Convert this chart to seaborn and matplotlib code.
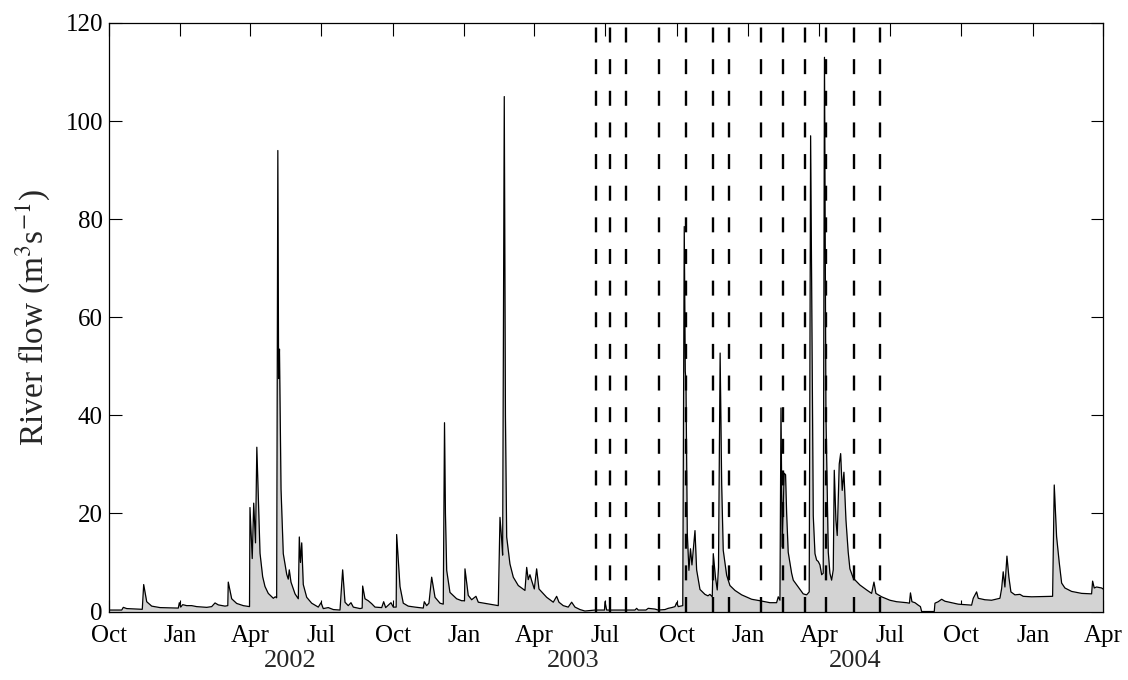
import numpy as np
import pandas as pd
import matplotlib
matplotlib.use("Agg")
import matplotlib.pyplot as plt
import matplotlib.transforms as mtransforms
import seaborn as sns

# ---------------- data ----------------
# days since 2001-10-01
day_offset = [0, 17.0, 19.0, 23.4, 43.4, 45.2, 49.1, 55.5, 66.2, 89.7,
              91.0, 92.8, 95.3, 100.5, 106.9, 113.3, 126.2, 132.6, 136.9, 141.1,
              149.7, 153.3, 153.9, 158.3, 164.7, 173.2, 181.2, 181.8, 184.7, 186.6,
              188.9, 190.6, 194.7, 198.1, 201.1, 205.3, 211.8, 214.3, 216.1, 217.6,
              218.6, 219.7, 221.7, 224.6, 229.0, 231.0, 232.3, 234.5, 239.7, 243.9,
              245.2, 246.7, 248.3, 250.3, 254.7, 261.1, 269.6, 273.1, 276.0, 282.4,
              288.9, 297.5, 300.9, 303.9, 308.1, 311.6, 314.6, 323.2, 326.0, 326.6,
              329.6, 333.8, 338.2, 342.5, 351.1, 353.6, 356.2, 363.0, 366.0, 369.7,
              370.3, 374.6, 378.8, 385.2, 393.9, 404.5, 405.8, 408.9, 411.8, 415.3,
              419.6, 426.0, 430.2, 431.8, 433.0, 434.6, 438.8, 447.4, 453.9, 457.5,
              458.1, 462.3, 466.7, 472.2, 475.2, 486.0, 500.9, 503.1, 505.3, 506.5,
              508.6, 510.1, 511.7, 515.9, 520.2, 526.6, 535.2, 537.4, 539.4, 541.6,
              543.8, 547.2, 550.2, 553.2, 556.7, 563.1, 571.6, 575.9, 578.9, 584.4,
              590.8, 595.2, 599.5, 605.9, 612.3, 625.2, 637.4, 638.0, 640.2, 676.6,
              678.7, 680.8, 690.7, 693.6, 702.3, 706.5, 715.1, 719.3, 723.7, 728.0,
              730.1, 732.2, 738.0, 739.9, 741.2, 742.1, 743.8, 745.9, 747.9, 749.8,
              753.7, 755.8, 760.1, 766.5, 770.4, 772.9, 775.9, 777.2, 780.0, 782.3,
              783.9, 786.0, 788.0, 790.0, 794.4, 798.6, 805.1, 813.7, 826.5, 837.2,
              850.0, 858.6, 860.7, 862.9, 864.2, 865.8, 868.3, 870.1, 871.5, 873.5,
              877.9, 880.0, 886.4, 892.8, 897.2, 900.5, 902.3, 905.7, 907.9, 910.0,
              912.1, 914.3, 916.5, 918.5, 920.1, 922.0, 925.0, 927.1, 929.3, 931.4,
              932.7, 934.8, 936.5, 939.1, 940.9, 942.9, 945.1, 947.7, 950.6, 952.8,
              957.1, 965.7, 974.3, 980.7, 983.7, 986.2, 993.6, 1004.2, 1012.8, 1025.7,
              1029.3, 1030.6, 1032.5, 1036.4, 1040.6, 1043.4, 1045.0, 1061.2, 1062.1, 1066.3,
              1070.7, 1074.9, 1083.5, 1092.0, 1109.2, 1111.3, 1115.6, 1117.7, 1126.3, 1134.9,
              1145.6, 1147.8, 1149.8, 1152.0, 1154.6, 1157.1, 1159.7, 1164.9, 1171.3, 1175.5,
              1186.3, 1213.3, 1215.4, 1218.4, 1220.1, 1221.8, 1224.9, 1229.1, 1237.7, 1250.6,
              1263.4, 1264.7, 1266.8, 1269.8, 1276.3, 1278.0]

flow = [0.3, 0.3, 0.85, 0.6, 0.45, 5.5, 2.0, 1.1, 0.8, 0.7,
        1.8, 0.9, 1.4, 1.2, 1.2, 1.0, 0.85, 1.0, 1.75, 1.35,
        1.1, 1.2, 6.0, 2.6, 1.65, 1.2, 1.0, 21.2, 10.8, 22.1,
        14.0, 33.5, 11.9, 7.1, 5.1, 3.7, 2.7, 3.0, 2.8, 94.0,
        47.5, 53.5, 25.0, 11.8, 7.6, 6.6, 8.5, 6.0, 3.6, 2.6,
        15.2, 10.0, 14.0, 5.5, 2.9, 1.7, 0.9, 1.8, 0.6, 0.8,
        0.4, 0.3, 8.5, 1.9, 1.2, 1.8, 0.9, 0.6, 0.7, 5.2,
        2.6, 2.2, 1.6, 0.9, 0.8, 2.0, 0.8, 1.8, 0.9, 0.9,
        15.7, 5.1, 1.7, 1.1, 0.9, 0.7, 2.0, 1.2, 1.7, 7.0,
        2.9, 1.7, 1.5, 38.5, 20.0, 8.4, 3.9, 2.6, 2.2, 2.2,
        8.7, 3.3, 2.4, 3.1, 1.9, 1.6, 1.2, 19.2, 14.5, 11.5,
        105.0, 40.0, 15.2, 9.7, 7.0, 5.3, 4.3, 9.0, 6.5, 7.5,
        6.3, 4.6, 8.7, 4.6, 4.0, 2.9, 1.9, 3.1, 1.9, 1.2,
        0.9, 1.9, 0.9, 0.4, 0.1, 0.3, 0.3, 2.0, 0.3, 0.3,
        0.65, 0.3, 0.3, 0.65, 0.5, 0.3, 0.4, 0.65, 0.8, 1.0,
        1.8, 1.0, 1.2, 78.5, 49.0, 47.0, 16.0, 8.4, 12.8, 9.5,
        16.5, 8.5, 4.5, 3.5, 3.2, 3.5, 3.0, 11.8, 7.0, 4.4,
        9.0, 52.7, 26.0, 12.5, 7.4, 5.3, 4.3, 3.4, 2.5, 2.2,
        1.8, 1.8, 3.0, 2.3, 41.5, 13.2, 28.2, 27.9, 20.0, 12.1,
        7.8, 6.4, 5.0, 3.6, 3.4, 4.0, 97.0, 19.5, 11.8, 10.5,
        10.2, 9.5, 7.5, 7.8, 113.0, 40.0, 12.1, 7.8, 6.4, 8.5,
        28.8, 18.7, 15.5, 30.1, 32.2, 24.7, 28.4, 18.7, 12.1, 8.7,
        6.8, 5.4, 4.4, 3.7, 6.0, 3.7, 3.0, 2.3, 2.0, 1.8,
        1.7, 3.8, 2.0, 1.8, 1.3, 1.0, 0.0, 0.0, 1.7, 2.0,
        2.5, 2.1, 1.8, 1.5, 1.3, 2.7, 4.0, 2.7, 2.4, 2.3,
        2.7, 4.7, 8.1, 5.0, 11.3, 7.0, 4.0, 3.4, 3.5, 3.1,
        3.0, 3.1, 25.8, 15.3, 12.6, 10.0, 5.8, 4.8, 4.1, 3.7,
        3.6, 6.2, 4.8, 5.0, 4.8, 4.6]

# sampling campaign dates (dashed vertical lines)
sample_dates = ["2003-06-19", "2003-07-08", "2003-07-28", "2003-09-09",
                "2003-10-13", "2003-11-17", "2003-12-08", "2004-01-18",
                "2004-02-15", "2004-03-14", "2004-04-10", "2004-05-16",
                "2004-06-19"]

year_labels = ["2002", "2003", "2004"]
year_label_dates = ["2002-05-22", "2003-05-21", "2004-05-17"]

x_start = "2001-10-01"
x_end = "2005-04-01"
y_ticks = [0, 20, 40, 60, 80, 100, 120]

# ---------------- plotting ----------------
sns.set_theme(style="ticks")
plt.rcParams["font.family"] = ["Liberation Serif", "DejaVu Serif"]
plt.rcParams["mathtext.fontset"] = "stix"

start = pd.Timestamp(x_start)
df = pd.DataFrame({
    "date": start + pd.to_timedelta(np.array(day_offset), unit="D"),
    "flow": flow,
})

fig = plt.figure(figsize=(11.28, 6.8), dpi=100)
ax = fig.add_axes([0.0962, 0.1007, 0.8816, 0.8655])

ax.fill_between(df["date"], 0, df["flow"], color="#d3d3d3", linewidth=0, zorder=1)
sns.lineplot(data=df, x="date", y="flow", color="black", linewidth=0.9,
             ax=ax, zorder=3, sort=False)

for d in sample_dates:
    ax.axvline(pd.Timestamp(d), color="black", linewidth=1.7,
               dashes=(6.35, 7.05), zorder=4)

ax.set_xlim(start, pd.Timestamp(x_end))
ax.set_ylim(0, 120)
ax.set_yticks(y_ticks)
xt = pd.date_range(x_start, x_end, freq="3MS")
ax.set_xticks(xt)
ax.set_xticklabels([t.strftime("%b") for t in xt])

ax.tick_params(direction="in", top=True, right=True, length=9, width=0.8,
               labelsize=18, colors="black")
ax.tick_params(axis="x", pad=9.5)
ax.tick_params(axis="y", pad=4)
for s in ax.spines.values():
    s.set_linewidth(0.9)
    s.set_color("black")
    s.set_visible(True)

ax.set_xlabel("")
ax.set_ylabel("River flow (m$^3$s$^{-1}$)", fontsize=24, labelpad=10)

trans = mtransforms.blended_transform_factory(ax.transData, ax.transAxes)
for lbl, d in zip(year_labels, year_label_dates):
    ax.text(pd.Timestamp(d), -0.066, lbl, transform=trans, ha="center",
            va="top", fontsize=19)

fig.savefig("out.png", dpi=100)
